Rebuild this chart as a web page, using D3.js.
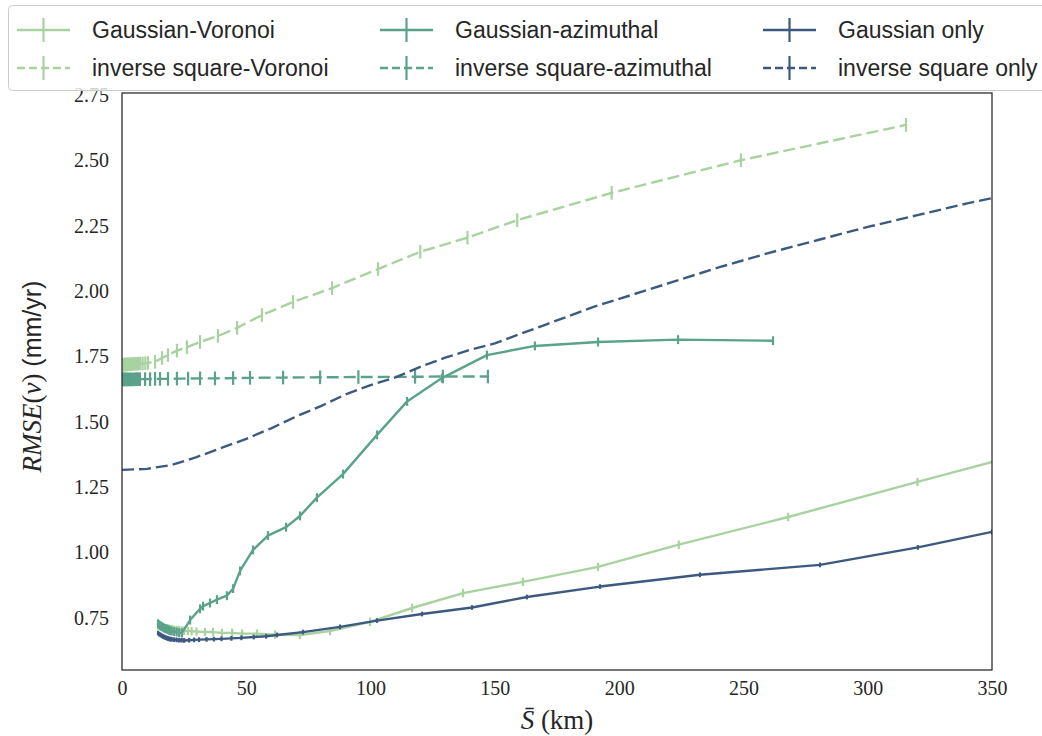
<!DOCTYPE html>
<html><head><meta charset="utf-8">
<script src="https://cdn.jsdelivr.net/npm/d3@7"></script>
<style>body{margin:0;background:#fff}</style>
</head><body><svg id="c" width="1042" height="736"></svg>
<script>
// ---------- data ----------
const seriesNames = ["Gaussian-Voronoi","inverse square-Voronoi","Gaussian-azimuthal","inverse square-azimuthal","Gaussian only","inverse square only"];
const xTicks = [0,50,100,150,200,250,300,350];
const yTicks = [0.75,1.00,1.25,1.50,1.75,2.00,2.25,2.50,2.75];

const gvX = [14.5,15,15.5,16,16.5,17,17.5,18,18.5,19,19.5,20,21,22,23,24,25,26.5,28,30,33.4,36.6,40.2,44.3,48.3,54.3,61.6,71.6,83.7,99.8,116.7,137.2,161.3,191.5,224,268,320,360];
const gvY = [0.722,0.72,0.718,0.716,0.714,0.712,0.711,0.71,0.709,0.708,0.707,0.706,0.705,0.704,0.703,0.702,0.701,0.70,0.699,0.698,0.696,0.696,0.693,0.693,0.690,0.690,0.686,0.685,0.70,0.735,0.788,0.845,0.888,0.945,1.03,1.136,1.27,1.372];
const gvErr = 0.016;

const isvX = [0.3,0.7,1.1,1.5,2,2.5,3,3.6,4.2,4.9,5.6,6.4,7.3,8.3,9.4,10.5,13.3,16.1,18.5,22.1,26.1,31.4,38.6,46.3,56.3,68.8,84.5,103,120,139,159,197,249,315.4];
const isvY = [1.718,1.718,1.719,1.719,1.719,1.72,1.72,1.72,1.721,1.721,1.722,1.722,1.723,1.723,1.724,1.725,1.729,1.744,1.755,1.772,1.785,1.805,1.828,1.859,1.908,1.958,2.011,2.084,2.15,2.204,2.271,2.375,2.50,2.635];
const isvErr = 0.026;

const gaX = [14.5,15,15.5,16,16.5,17,17.5,18,18.5,19,19.5,20,21,22,23,24.1,27.4,31.4,32.6,35.4,38.2,42.2,44.7,47.5,52.7,58.7,66,71.6,78.4,88.9,102.6,114.7,128.7,146.8,166.1,191.5,223.7,261.9];
const gaY = [0.728,0.724,0.72,0.717,0.714,0.711,0.709,0.707,0.705,0.703,0.701,0.70,0.698,0.696,0.694,0.693,0.742,0.785,0.795,0.807,0.82,0.835,0.862,0.93,1.01,1.065,1.097,1.14,1.21,1.30,1.45,1.578,1.667,1.755,1.79,1.805,1.814,1.81];
const gaErr = 0.017;

const isaX = [0.3,0.7,1.1,1.5,2,2.5,3,3.6,4.2,4.9,5.6,6.4,7.2,9.3,11.3,13.3,15.3,18.5,22.1,26.6,31.4,37.4,44.7,51.5,64.8,79.7,95.1,117.9,129.1,147.2];
const isaY = [1.662,1.662,1.662,1.662,1.662,1.662,1.662,1.662,1.662,1.662,1.663,1.663,1.663,1.663,1.663,1.664,1.664,1.664,1.665,1.665,1.666,1.666,1.667,1.668,1.669,1.670,1.671,1.672,1.673,1.673];
const isaErr = 0.026;

const goX = [14.5,15,15.5,16,16.5,17,17.5,18,18.5,19,19.5,20,21,22,23,24,25,27,29,31,34,37,40,44,48,53,58,62.4,72.8,87.7,102.6,120.7,140.8,162.9,192.3,232.5,280.8,320.2,350];
const goY = [0.692,0.688,0.685,0.682,0.679,0.677,0.675,0.673,0.671,0.67,0.669,0.668,0.667,0.666,0.665,0.665,0.664,0.665,0.666,0.667,0.668,0.669,0.67,0.672,0.674,0.677,0.68,0.685,0.696,0.716,0.74,0.765,0.79,0.83,0.87,0.915,0.953,1.02,1.079];
const goErr = 0.009;

const isoX = [0,10,20,30,40,50,60,70,80,90,100,110,120,130,140,150,160,170,180,190,200,220,240,260,280,300,320,340,350];
const isoY = [1.316,1.320,1.335,1.365,1.40,1.435,1.475,1.52,1.56,1.605,1.64,1.67,1.71,1.745,1.775,1.80,1.835,1.87,1.905,1.94,1.97,2.03,2.09,2.145,2.195,2.245,2.29,2.335,2.355];
const isoErr = 0.0;

// ---------- styling ----------
const cLight = "#a8d29f", cMid = "#5aa28b", cDark = "#3c5a80";
const series = [
  {name: seriesNames[0], xs: gvX, ys: gvY, err: gvErr, color: cLight, dash: null},
  {name: seriesNames[1], xs: isvX, ys: isvY, err: isvErr, color: cLight, dash: "12,5"},
  {name: seriesNames[2], xs: gaX, ys: gaY, err: gaErr, color: cMid, dash: null},
  {name: seriesNames[3], xs: isaX, ys: isaY, err: isaErr, color: cMid, dash: "12,5"},
  {name: seriesNames[4], xs: goX, ys: goY, err: goErr, color: cDark, dash: null},
  {name: seriesNames[5], xs: isoX, ys: isoY, err: isoErr, color: cDark, dash: "12,5"}
];

const svg = d3.select("#c");
const L = 122, R = 992, T = 93, B = 670;
const x = d3.scaleLinear().domain([0,350]).range([L,R]);
const y = d3.scaleLinear().domain([0.551,2.757]).range([B,T]);
const axisColor = "#262626";

svg.append("defs").append("clipPath").attr("id","clip")
  .append("rect").attr("x",L).attr("y",T).attr("width",R-L).attr("height",B-T);

const xAxis = svg.append("g").attr("transform",`translate(0,${B})`)
  .call(d3.axisBottom(x).tickValues(xTicks).tickSize(0).tickPadding(11).tickFormat(d3.format("d")));
const yAxis = svg.append("g").attr("transform",`translate(${L},0)`)
  .call(d3.axisLeft(y).tickValues(yTicks).tickSize(0).tickPadding(13).tickFormat(d3.format(".2f")));
[xAxis,yAxis].forEach(g=>{
  g.select(".domain").remove();
  g.selectAll("text").attr("font-family","'Liberation Serif', serif").attr("font-size",20).attr("fill",axisColor);
});
xAxis.selectAll("text").attr("dy","0.71em");

const plot = svg.append("g").attr("clip-path","url(#clip)");
const line = d3.line().x(d=>x(d[0])).y(d=>y(d[1]));
series.forEach(s=>{
  const pts = s.xs.map((v,i)=>[v, s.ys[i]]);
  const g = plot.append("g");
  g.append("path").datum(pts).attr("d",line).attr("fill","none")
    .attr("stroke",s.color).attr("stroke-width",2.4)
    .attr("stroke-dasharray",s.dash).attr("stroke-linejoin","round");
  if (s.err > 0) {
    g.selectAll("line.eb").data(pts).join("line").attr("class","eb")
      .attr("x1",d=>x(d[0])).attr("x2",d=>x(d[0]))
      .attr("y1",d=>y(d[1]-s.err)).attr("y2",d=>y(d[1]+s.err))
      .attr("stroke",s.color).attr("stroke-width",2.2);
  }
});

svg.append("rect").attr("x",L).attr("y",T).attr("width",R-L).attr("height",B-T)
  .attr("fill","none").attr("stroke",axisColor).attr("stroke-width",1.25);

const yl = svg.append("text").attr("transform",`translate(41,${(T+B)/2 - 5}) rotate(-90)`)
  .attr("text-anchor","middle").attr("font-size",27).attr("fill",axisColor);
yl.append("tspan").attr("font-family","'Liberation Serif', serif").attr("font-style","italic").text("RMSE");
yl.append("tspan").attr("font-family","'Liberation Serif', serif").text("(");
yl.append("tspan").attr("font-family","'Liberation Serif', serif").attr("font-style","italic").text("v");
yl.append("tspan").attr("font-family","'Liberation Serif', serif").text(") ");
yl.append("tspan").attr("font-family","'Liberation Sans', sans-serif").attr("font-size",25).text("(mm/yr)");

const xl = svg.append("text").attr("x",(L+R)/2).attr("y",729)
  .attr("text-anchor","middle").attr("font-size",27).attr("fill",axisColor)
  .attr("font-family","'Liberation Serif', serif");
xl.append("tspan").attr("font-style","italic").text("S\u0304");
xl.append("tspan").text(" (km)");

const lg = svg.append("g");
lg.append("rect").attr("x",8.5).attr("y",5.5).attr("width",1060).attr("height",85).attr("rx",4)
  .attr("fill","#ffffff").attr("fill-opacity",0.8).attr("stroke","#cccccc").attr("stroke-width",1);
const colX = [17, 380, 763];
const rowY = [30, 68];
series.forEach((s,i)=>{
  const c = Math.floor(i/2), r = i%2;
  const x0 = colX[c], yy = rowY[r];
  const g = lg.append("g");
  g.append("line").attr("x1",x0).attr("x2",x0+53).attr("y1",yy).attr("y2",yy)
    .attr("stroke",s.color).attr("stroke-width",2.4).attr("stroke-dasharray",s.dash ? "8,4" : null);
  g.append("line").attr("x1",x0+26.5).attr("x2",x0+26.5).attr("y1",yy-12).attr("y2",yy+12)
    .attr("stroke",s.color).attr("stroke-width",2.2);
  g.append("text").attr("x",x0+75).attr("y",yy).attr("dy","0.35em")
    .attr("font-family","'Liberation Sans', sans-serif").attr("font-size",23).attr("fill",axisColor)
    .text(s.name);
});
</script></body></html>
